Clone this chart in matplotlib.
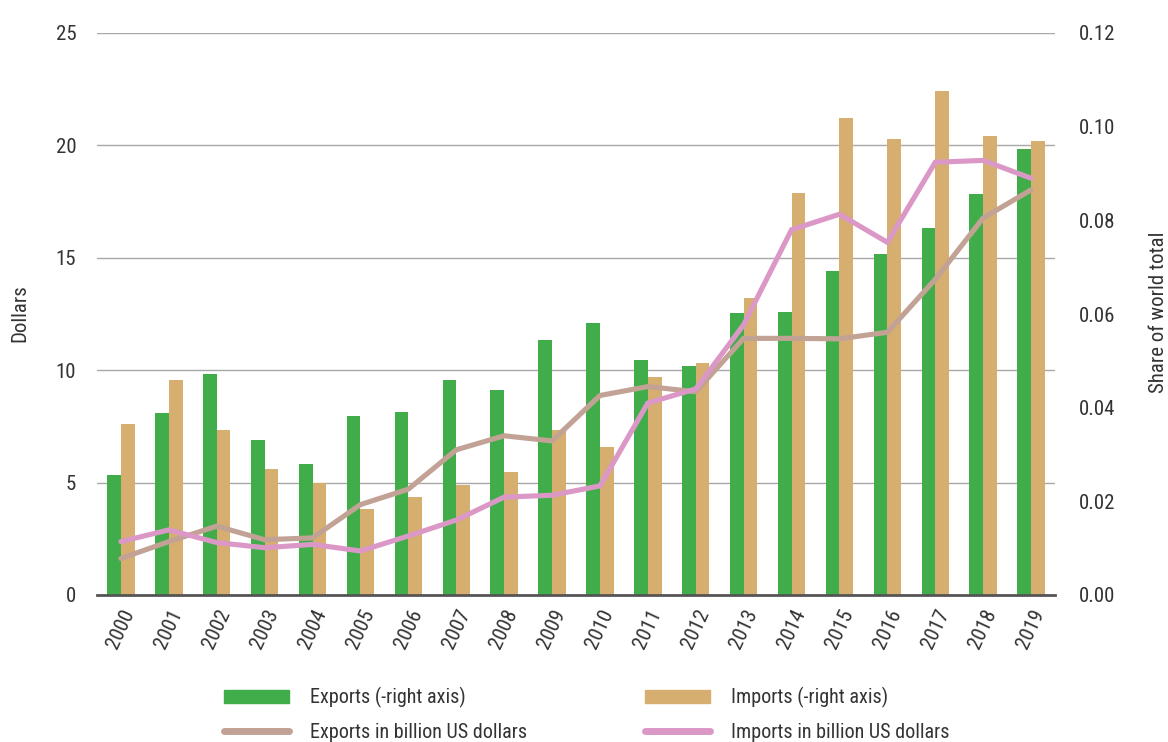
import matplotlib
matplotlib.use("Agg")
import matplotlib.pyplot as plt
from matplotlib import font_manager
from matplotlib.patches import Patch
from matplotlib.lines import Line2D
import numpy as np

# Pick a condensed sans face if one is installed, else Liberation Sans
def pick_font():
    prefs = ['Liberation Sans Narrow', 'Roboto Condensed', 'Open Sans Condensed',
             'DejaVu Sans Condensed', 'Noto Sans Condensed']
    found = []
    for f in font_manager.fontManager.ttflist:
        key = (f.name + ' ' + f.fname).lower()
        if ('narrow' in key or 'condensed' in key) and f.weight in (400, 'normal', 'regular') \
                and f.style == 'normal':
            found.append(f)
    for p in prefs:
        for f in found:
            if f.name == p or p.replace(' ', '').lower() in f.fname.replace(' ', '').lower():
                return f.name, f.stretch, True
    if found:
        return found[0].name, found[0].stretch, True
    return 'Liberation Sans', 'normal', False

fname, fstretch, condensed = pick_font()
plt.rcParams['font.family'] = [fname, 'DejaVu Sans']
plt.rcParams['font.stretch'] = fstretch

years = [str(y) for y in range(2000, 2020)]
exports_dollars = [5.35, 8.09, 9.85, 6.90, 5.82, 7.97, 8.12, 9.58, 9.13, 11.36,
                   12.11, 10.47, 10.18, 12.53, 12.58, 14.40, 15.15, 16.33, 17.85, 19.82]
imports_dollars = [7.62, 9.55, 7.35, 5.62, 4.98, 3.81, 4.38, 4.88, 5.49, 7.32,
                   6.58, 9.71, 10.34, 13.22, 17.87, 21.21, 20.27, 22.42, 20.44, 20.18]
exports_share = [0.0078, 0.0114, 0.0147, 0.0118, 0.0122, 0.0193, 0.0226, 0.0310, 0.0340, 0.0329,
                 0.0426, 0.0445, 0.0434, 0.0548, 0.0548, 0.0547, 0.0561, 0.0674, 0.0805, 0.0865]
imports_share = [0.0114, 0.0139, 0.0112, 0.0101, 0.0108, 0.0094, 0.0126, 0.0160, 0.0209, 0.0213,
                 0.0233, 0.0410, 0.0440, 0.0577, 0.0780, 0.0813, 0.0753, 0.0924, 0.0928, 0.0890]

left_ticks = [0, 5, 10, 15, 20, 25]
right_ticks = [0.00, 0.02, 0.04, 0.06, 0.08, 0.10, 0.12]

c_green = '#41AD4A'
c_tan = '#D6AE70'
c_taupe = '#C3A296'
c_pink = '#DB98C6'
c_text = '#333333'

fs_tick = 15 if condensed else 13
fs_leg = 14.5 if condensed else 12.5

fig = plt.figure(figsize=(11.68, 7.42), dpi=100)
ax = fig.add_axes([97/1168, 1-595/742, (1055-97)/1168, (595-33)/742])
ax2 = ax.twinx()

x = np.arange(len(years))
bw = 0.285
ax.bar(x - bw/2, exports_dollars, width=bw, color=c_green, zorder=2)
ax.bar(x + bw/2, imports_dollars, width=bw, color=c_tan, zorder=2)

ax2.plot(x, exports_share, color=c_taupe, lw=3.7, solid_joinstyle='miter', solid_capstyle='round', zorder=3)
ax2.plot(x, imports_share, color=c_pink, lw=3.7, solid_joinstyle='miter', solid_capstyle='round', zorder=4)

ax.set_xlim(-0.5, len(years) - 0.5)
ax.set_ylim(0, 25)
ax.set_yticks(left_ticks)
ax.set_yticklabels([str(t) for t in left_ticks])
ax2.set_ylim(0, 0.12)
ax2.set_yticks(right_ticks)
ax2.set_yticklabels([f"{t:.2f}" for t in right_ticks])

ax.grid(axis='y', color='#A8A8A8', lw=1.0, zorder=0)
ax.set_axisbelow(True)

for a in (ax, ax2):
    for s in ('top', 'left', 'right', 'bottom'):
        a.spines[s].set_visible(False)
ax.spines['bottom'].set_visible(True)
ax.spines['bottom'].set_color('#555555')
ax.spines['bottom'].set_linewidth(2.0)

ax.set_xticks(x)
ax.set_xticklabels(years, rotation=65, ha='center', va='top')
ax.tick_params(axis='x', length=0, pad=8, labelsize=fs_tick, labelcolor=c_text)
ax.tick_params(axis='y', length=0, pad=15, labelsize=fs_tick, labelcolor=c_text)
ax2.tick_params(axis='y', length=0, pad=17, labelsize=fs_tick, labelcolor=c_text)

fig.text(20/1168, 1-313/742, 'Dollars', rotation=90, ha='center', va='center',
         fontsize=fs_tick, color=c_text)
fig.text(1158/1168, 1-312/742, 'Share of world total', rotation=90, ha='center', va='center',
         fontsize=fs_tick, color=c_text)

h1 = [Patch(color=c_green), Line2D([0], [0], color=c_taupe, lw=5, solid_capstyle='round')]
l1 = ['Exports (-right axis)', 'Exports in billion US dollars']
h2 = [Patch(color=c_tan), Line2D([0], [0], color=c_pink, lw=5, solid_capstyle='round')]
l2 = ['Imports (-right axis)', 'Imports in billion US dollars']

yc = 1 - 714.5/742
for hh, ll, xl in ((h1, l1, 224/1168), (h2, l2, 645/1168)):
    leg = fig.legend(hh, ll, loc='center left', bbox_to_anchor=(xl, yc), frameon=False,
                     fontsize=fs_leg, handlelength=65/(fs_leg*100/72), handletextpad=21/(fs_leg*100/72),
                     handleheight=12/(fs_leg*100/72),
                     labelspacing=0.72, borderpad=0, borderaxespad=0)
    for t in leg.get_texts():
        t.set_color(c_text)

fig.savefig('out.png', dpi=100)
